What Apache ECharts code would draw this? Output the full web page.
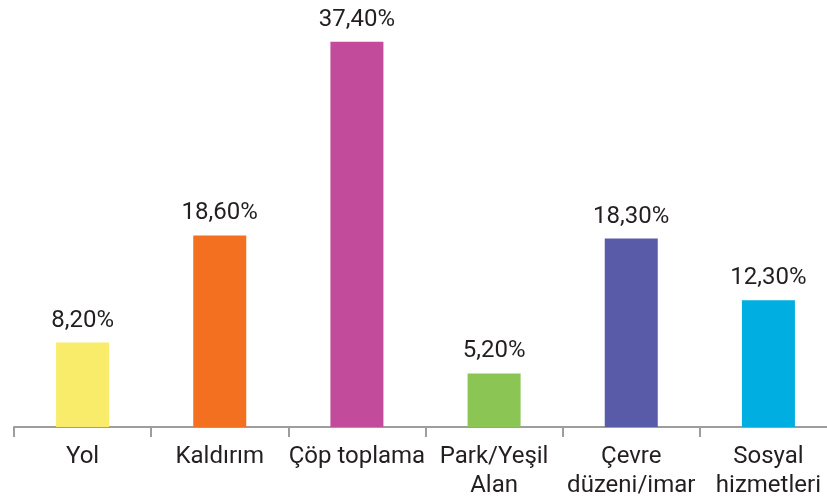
<!DOCTYPE html>
<html>
<head>
<meta charset="utf-8">
<script src="https://cdn.jsdelivr.net/npm/echarts@6/dist/echarts.min.js"></script>
<style>
  html, body { margin: 0; padding: 0; background: #fff; }
  #chart { width: 827px; height: 502px; }
</style>
</head>
<body>
<div id="chart"></div>
<script>
const categories = ['Yol', 'Kaldırım', 'Çöp toplama', 'Park/Yeşil\nAlan', 'Çevre\ndüzeni/imar', 'Sosyal\nhizmetleri']
const values = [8.2, 18.6, 37.4, 5.2, 18.3, 12.3]
const colors = ['#f9ec6a', '#f37021', '#c34b9b', '#8bc554', '#5a5ba8', '#00aee1']

const chart = echarts.init(document.getElementById('chart'))

chart.setOption({
  animation: false,
  grid: {
    left: 14,
    top: 15,
    width: 823,
    bottom: 75,
    containLabel: false,
    outerBoundsMode: 'none'
  },
  xAxis: {
    type: 'category',
    data: categories,
    axisLine: { lineStyle: { color: '#9d9d9d', width: 2 } },
    axisTick: { show: true, length: 10, lineStyle: { color: '#9d9d9d', width: 2 } },
    axisLabel: {
      color: '#231f20',
      fontFamily: 'Roboto',
      fontSize: 24,
      lineHeight: 29,
      margin: 15,
      interval: 0
    }
  },
  yAxis: {
    type: 'value',
    min: 0,
    max: 40,
    show: false,
    splitLine: { show: false }
  },
  series: [
    {
      type: 'bar',
      data: values.map((v, i) => ({ value: v, itemStyle: { color: colors[i] } })),
      barWidth: 53,
      label: {
        show: true,
        position: 'top',
        distance: 10,
        color: '#231f20',
        fontFamily: 'Roboto',
        fontSize: 24,
        formatter: p => p.value.toFixed(2).replace('.', ',') + '%'
      }
    }
  ]
})
</script>
</body>
</html>
